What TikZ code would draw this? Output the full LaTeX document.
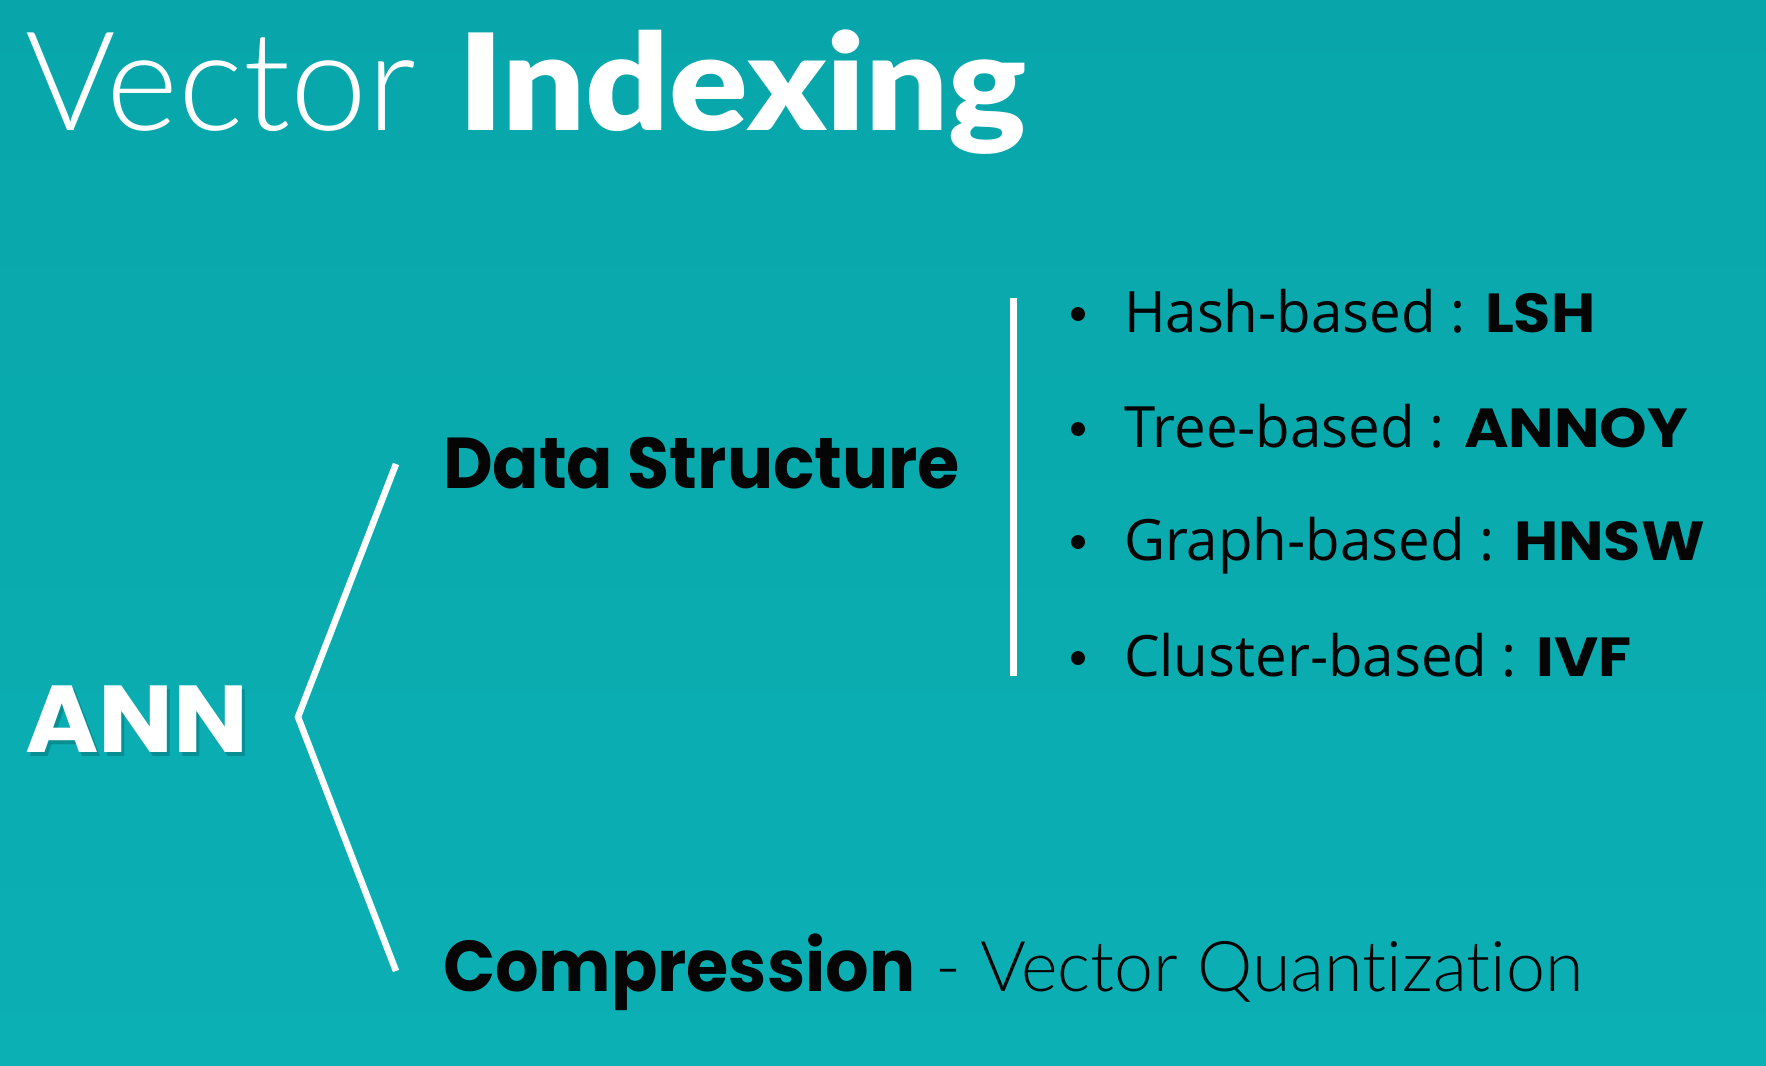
\documentclass[tikz,border=0pt]{standalone}
\usepackage{fontspec}
\setmainfont{Open Sans}
\newfontfamily\thinfont{Lato Light}[Ligatures={NoCommon,NoDiscretionary}]
\newfontfamily\blackfont{Lato Black}[FakeStretch=1.09]
\newfontfamily\heavyfont{Poppins Bold}[FakeStretch=0.95]
\newfontfamily\rootfont{Poppins Bold}[FakeStretch=1.05]
\newfontfamily\keyfont{Poppins Bold}[FakeStretch=1.1]
\newfontfamily\bodyfont{Open Sans}[FakeStretch=0.99]
\usetikzlibrary{calc}
\definecolor{tealtop}{RGB}{8,166,170}
\definecolor{tealbot}{RGB}{11,176,180}
\definecolor{shadowteal}{RGB}{4,100,102}
\definecolor{ink}{RGB}{5,5,5}
\tikzset{
  txt/.style={anchor=base west, inner sep=0pt, outer sep=0pt},
  title/.style={txt, text=white},
  heading/.style={txt, text=ink, font=\heavyfont\fontsize{72}{80}\selectfont},
  item/.style={txt, text=ink, font=\bodyfont\fontsize{57}{64}\selectfont},
  rule/.style={white, line width=7pt},
  bullet/.style={circle, fill=ink, inner sep=0pt, minimum size=14pt},
}
\begin{document}
\begin{tikzpicture}[x=1pt, y=1pt]
  % background
  \shade[top color=tealtop, bottom color=tealbot] (0,0) rectangle (1766,-1065);
  \useasboundingbox (0,0) rectangle (1766,-1065);

  % title
  \node[title, font=\thinfont\fontsize{138}{144}\selectfont] (t1) at (25,-130) {Vector};
  \node[title, font=\blackfont\fontsize{134}{140}\selectfont] (t2) at (458,-130) {Indexing};

  % root with soft shadow
  \node[txt, text=shadowteal, opacity=0.4, font=\rootfont\fontsize{95}{100}\selectfont] at (28,-756) {ANN};
  \node[txt, text=white, font=\rootfont\fontsize{95}{100}\selectfont] (ann) at (25,-752) {ANN};

  % branch bracket
  \coordinate (btop) at (396,-464);
  \coordinate (btip) at (298,-717);
  \coordinate (bbot) at (396,-971);
  \draw[rule, line width=6.5pt] (btop) -- (btip) -- (bbot);

  % branches
  \node[heading] (ds) at (443,-488) {Data Structure};
  \node[heading] (cp) at (443,-991) {Compression};
  \node[txt, text=ink, font=\thinfont\fontsize{70}{80}\selectfont] (vq) at ($(cp.base east)+(20,0)$) {- Vector Quantization};

  % divider
  \coordinate (dtop) at (1013,-298);
  \coordinate (dbot) at (1013,-676);
  \draw[rule] (dtop) -- (dbot);

  % list
  \foreach \n/\y/\a/\b in {h/332/Hash-based/LSH, t/447/Tree-based/ANNOY, g/560/Graph-based/HNSW, c/676/Cluster-based/IVF}{
    \node[bullet] (b\n) at (1078,-\y+18) {};
    \node[item] (i\n) at (1124,-\y) {\a\ : {\keyfont\fontsize{55}{64}\selectfont\b}};
  }
\end{tikzpicture}
\end{document}
